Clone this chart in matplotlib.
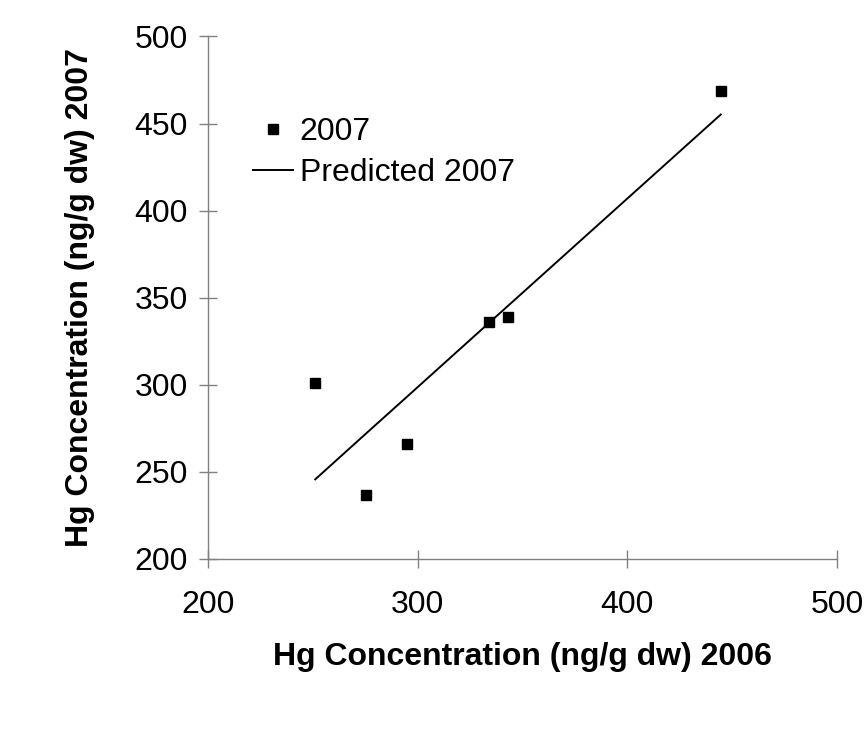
from matplotlib import pyplot as plt
import numpy as np

# Hg concentrations (ng/g dw)
hg_2006 = [251.2, 275.5, 295.2, 334.3, 343.1, 444.6]
hg_2007 = [300.9, 236.9, 266.0, 336.0, 338.9, 468.8]
predicted_2007 = [245.7, 272.1, 293.4, 335.8, 345.3, 455.2]

x_ticks = [200, 300, 400, 500]
y_ticks = [200, 250, 300, 350, 400, 450, 500]

plt.rcParams['font.family'] = ['Liberation Sans', 'DejaVu Sans']

fig = plt.figure(figsize=(8.66, 7.44), dpi=100)
ax = fig.add_axes([0.240, 0.2487, 0.7265, 0.7023])

ax.plot(hg_2006, hg_2007, linestyle='none', marker='s', markersize=7,
        color='black', label='2007')
ax.plot(hg_2006, predicted_2007, color='black', linewidth=1.4,
        label='Predicted 2007')

ax.set_xlim(200, 500)
ax.set_ylim(200, 500)
ax.set_xticks(x_ticks)
ax.set_yticks(y_ticks)

for side in ('top', 'right'):
    ax.spines[side].set_visible(False)
for side in ('left', 'bottom'):
    ax.spines[side].set_color('#808080')
    ax.spines[side].set_linewidth(1.0)
ax.tick_params(direction='inout', length=13, width=1.0, color='#808080',
               labelsize=23)
ax.tick_params(axis='x', pad=16)
ax.tick_params(axis='y', pad=8)

ax.set_xlabel('Hg Concentration (ng/g dw) 2006', fontsize=23,
              fontweight='bold', labelpad=16)
ax.set_ylabel('Hg Concentration (ng/g dw) 2007', fontsize=23,
              fontweight='bold', labelpad=28)

ax.legend(loc='upper left', bbox_to_anchor=(0.292, 0.843),
          bbox_transform=fig.transFigure, frameon=False, fontsize=23,
          handlelength=1.25, handletextpad=0.22, labelspacing=0.35,
          borderpad=0, borderaxespad=0)

fig.savefig('out.png', dpi=100)
